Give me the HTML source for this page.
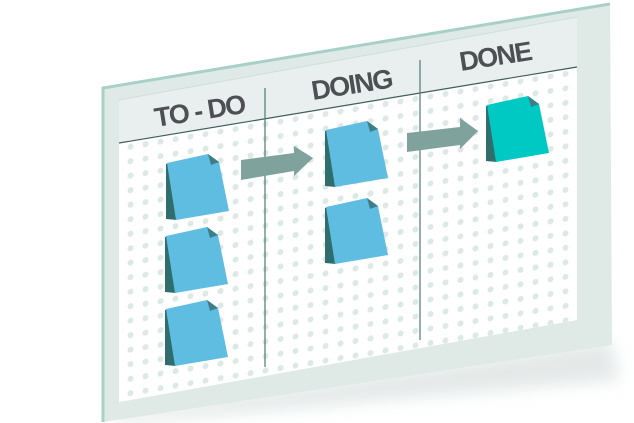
<!DOCTYPE html>
<html><head><meta charset="utf-8"><style>
html,body{margin:0;padding:0;background:#fff;width:634px;height:423px;overflow:hidden}
svg{display:block}
text{font-family:"Liberation Sans",sans-serif;font-size:27px;font-weight:bold;fill:#4d4f52;letter-spacing:-1.5px}
</style></head><body>
<svg width="634" height="423" viewBox="0 0 634 423">
<defs>
<filter id="bl" x="-20%" y="-50%" width="140%" height="200%"><feGaussianBlur stdDeviation="8"/></filter>
<pattern id="dots" width="15" height="14.5" patternUnits="userSpaceOnUse" patternTransform="skewY(-9.5) translate(3,2)">
<circle cx="7.5" cy="7" r="3" fill="#dde9e6"/>
</pattern>
<clipPath id="wc"><polygon points="119,143 577,67 577,320 119,402"/></clipPath>
<g id="note"><polygon points="-1,1 3,0 10,57 -1,56" fill="#2f6e6d"/>
<polygon points="0,0 41,-9 52,-1 62,48 9,57"/>
<polygon points="41,-9 52,-1 44,2" fill="#3e7e86"/></g>
</defs>
<polygon points="110,415 610,340 620,380 120,423" fill="#c9d3d1" opacity="0.5" filter="url(#bl)"/>
<polygon points="103,88 610,4 612,345 103,422" fill="#dfeae7"/>
<polyline points="103,422 103,88 610,4" fill="none" stroke="#a9d0c7" stroke-width="3"/>
<polygon points="119,100 577,17 577,320 119,402" fill="#e9efee"/>
<polygon points="119,143 577,67 577,320 119,402" fill="#fff"/>
<rect x="100" y="40" width="500" height="380" fill="url(#dots)" clip-path="url(#wc)"/>
<line x1="119" y1="143" x2="577" y2="67" stroke="#3e5d58" stroke-width="1.2"/>
<line x1="119" y1="100" x2="577" y2="17" stroke="#cfdedb" stroke-width="1"/>
<line x1="265" y1="88" x2="265" y2="367" stroke="#4f7a73" stroke-width="1.2"/>
<line x1="420" y1="60" x2="420" y2="340" stroke="#4f7a73" stroke-width="1.2"/>
<text x="156" y="127" transform="rotate(-9 156 127)">TO - DO</text>
<text x="313" y="100" transform="rotate(-9 313 100)">DOING</text>
<text x="461" y="71" transform="rotate(-9 461 71)">DONE</text>
<polygon points="241,160 294,153 294,146 313,158 294,176 294,171 241,180" fill="#7fa29d"/>
<polygon points="407,133 460,127 460,118 478,131 460,149 460,145 407,152" fill="#7fa29d"/>
<use href="#note" x="167" y="163" fill="#60bde2"/>
<use href="#note" x="166" y="236" fill="#60bde2"/>
<use href="#note" x="166" y="309" fill="#60bde2"/>
<use href="#note" x="326" y="130" fill="#60bde2"/>
<use href="#note" x="326" y="207" fill="#60bde2"/>
<use href="#note" x="487" y="105" fill="#00c8c3"/>
</svg>
</body></html>
